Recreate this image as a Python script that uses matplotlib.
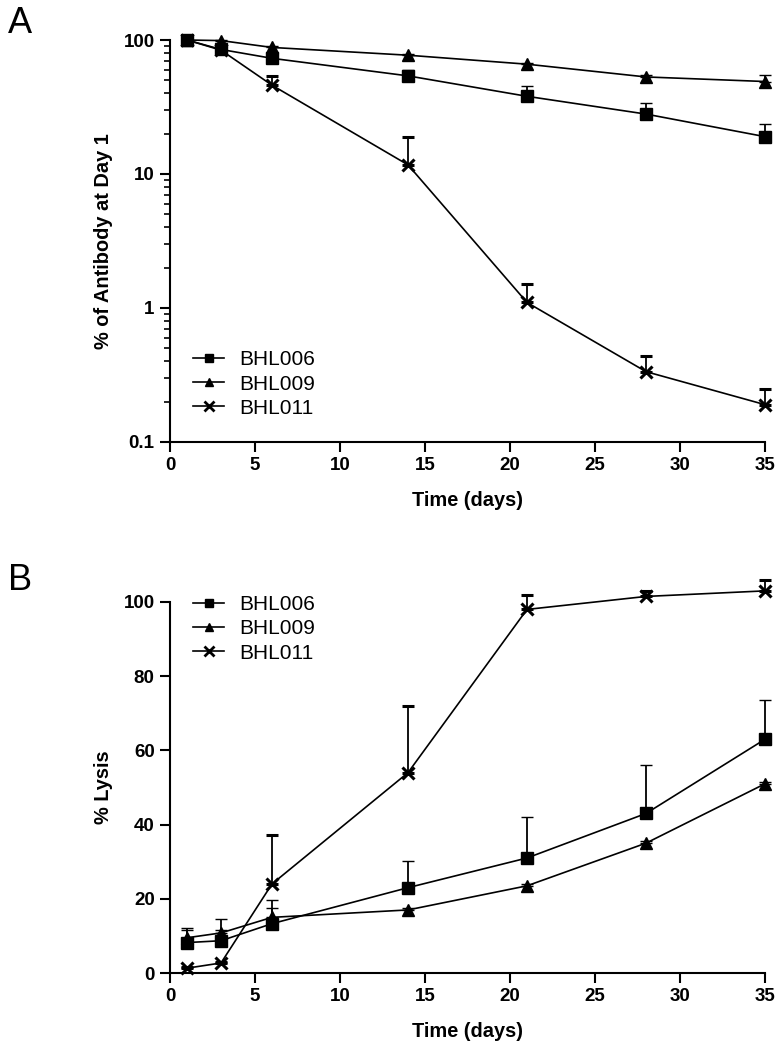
import numpy as np
import matplotlib.pyplot as plt
from matplotlib.lines import Line2D
from matplotlib.ticker import FixedLocator, FixedFormatter, LogLocator, NullFormatter

plt.rcParams['font.family'] = ['Liberation Sans', 'DejaVu Sans']

days = [1, 3, 6, 14, 21, 28, 35]
names = ['BHL006', 'BHL009', 'BHL011']

# Panel A: % of antibody remaining relative to day 1 (mean, upper error)
ab_006 = [100, 85, 73, 54, 38, 28, 19]
ab_006_err = [0, 2, 3, 6, 7, 6, 4.5]
ab_009 = [100, 99, 88, 77, 66, 53, 49]
ab_009_err = [0, 1, 1.5, 1.5, 1.5, 1.5, 6]
ab_011 = [100, 84, 46, 11.7, 1.1, 0.335, 0.19]
ab_011_err = [0, 2, 8, 7.3, 0.4, 0.1, 0.06]

# Panel B: % lysis
ly_006 = [8.2, 8.7, 13.3, 23, 31, 43, 63]
ly_006_err = [3.9, 3, 6.5, 7.3, 11, 13, 10.5]
ly_009 = [9.5, 10.8, 15, 17, 23.5, 35, 51]
ly_009_err = [2, 3.8, 2.4, 0.5, 0.5, 0.5, 0.5]
ly_011 = [1.3, 2.7, 24, 54, 98, 101.5, 103]
ly_011_err = [0.3, 0.3, 13.2, 18, 4, 1.5, 3]

markers = ['s', '^', 'x']

fig = plt.figure(figsize=(7.77, 10.44), dpi=100)
axA = fig.add_axes([170/777, 1 - 442/1044, 595/777, 402/1044])
axB = fig.add_axes([170/777, 1 - 973/1044, 595/777, 371/1044])


def draw(ax, series, errs):
    for name, m, y, e in zip(names, markers, series, errs):
        mew = 2.2 if m == 'x' else 1
        ms = 9 if m == 'x' else 8
        ax.errorbar(days, y, yerr=[np.zeros(len(e)), e], color='black', lw=1.2,
                    marker=m, ms=ms, mew=mew, capsize=4, capthick=1.3, elinewidth=1.3,
                    clip_on=False, zorder=3)


def legend(ax, **kw):
    handles = []
    for name, m in zip(names, markers):
        mew = 2 if m == 'x' else 1
        ms = 7 if m == 'x' else 6
        handles.append(Line2D([], [], color='black', lw=1.2, marker=m, ms=ms, mew=mew))
    ax.legend(handles, names, frameon=False, fontsize=15, handlelength=1.5,
              handletextpad=0.7, labelspacing=0.25, borderaxespad=0, **kw)


def style(ax):
    for s in ['top', 'right']:
        ax.spines[s].set_visible(False)
    for s in ['left', 'bottom']:
        ax.spines[s].set_linewidth(1.5)
    ax.tick_params(which='major', length=7, width=1.5, labelsize=13.5, pad=4)
    ax.tick_params(which='minor', length=4, width=1.2)
    ax.set_xlim(0, 35)
    ax.set_xticks(range(0, 36, 5))
    for lab in ax.get_xticklabels() + ax.get_yticklabels():
        lab.set_fontweight('bold')
    ax.set_xlabel('Time (days)', fontsize=14.4, fontweight='bold', labelpad=12)


draw(axA, [ab_006, ab_009, ab_011], [ab_006_err, ab_009_err, ab_011_err])
axA.set_yscale('log')
axA.set_ylim(0.1, 100)
axA.yaxis.set_major_locator(FixedLocator([0.1, 1, 10, 100]))
axA.yaxis.set_major_formatter(FixedFormatter(['0.1', '1', '10', '100']))
axA.yaxis.set_minor_locator(LogLocator(base=10, subs=np.arange(2, 10)))
axA.yaxis.set_minor_formatter(NullFormatter())
style(axA)
axA.set_ylabel('% of Antibody at Day 1', fontsize=14.4, fontweight='bold')
axA.yaxis.set_label_coords(-57/595, 0.5)
legend(axA, loc='center left', bbox_to_anchor=(0.025, (442 - 384) / 402))

draw(axB, [ly_006, ly_009, ly_011], [ly_006_err, ly_009_err, ly_011_err])
axB.set_ylim(0, 100)
axB.set_yticks(range(0, 101, 20))
style(axB)
axB.set_ylabel('% Lysis', fontsize=14.4, fontweight='bold')
axB.yaxis.set_label_coords(-57/595, 0.5)
legend(axB, loc='center left', bbox_to_anchor=(0.025, (973 - 629) / 371))

fig.text(8/777, 1 - 6/1044, 'A', fontsize=26, va='top', ha='left')
fig.text(8/777, 1 - 563/1044, 'B', fontsize=26, va='top', ha='left')

fig.savefig('out.png', dpi=100)
